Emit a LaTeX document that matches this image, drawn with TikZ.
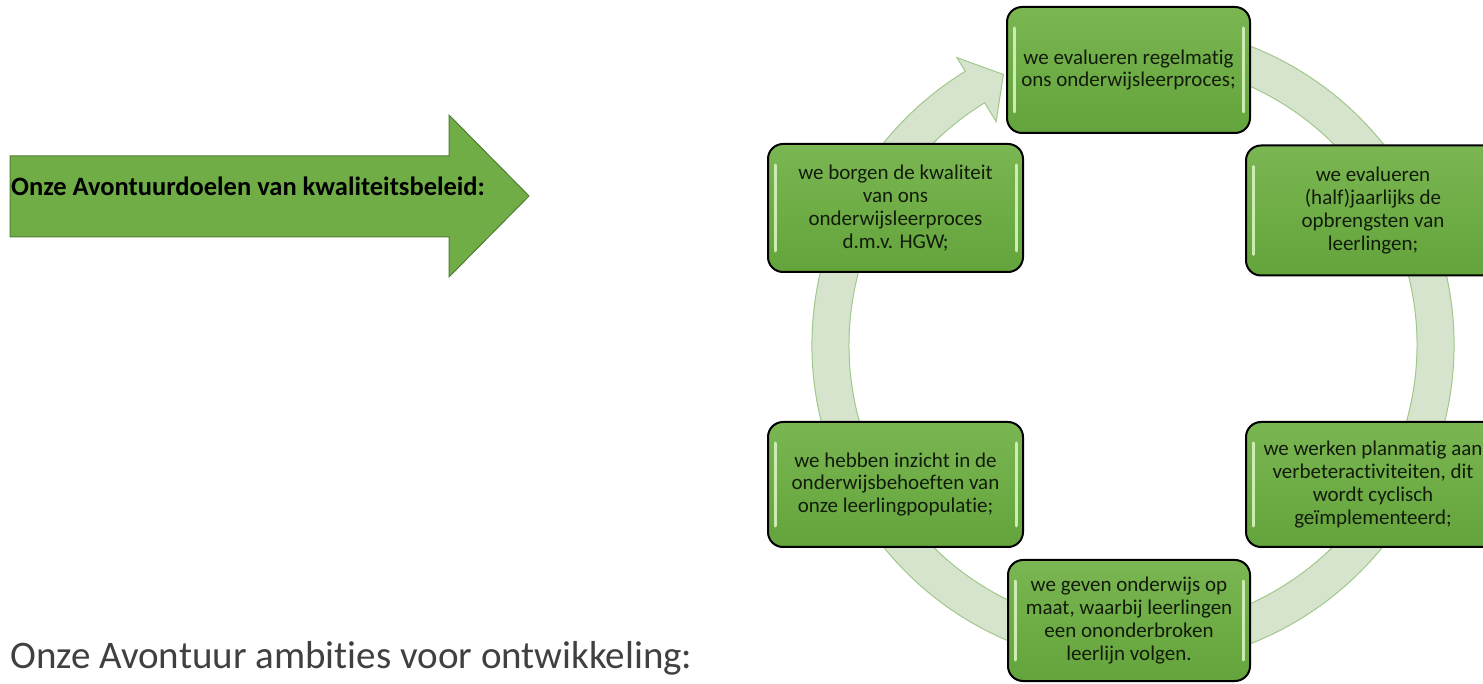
\documentclass[tikz,border=0pt]{standalone}
\usepackage{fontspec}
\setmainfont{Carlito}[Ligatures=NoCommon]
\definecolor{arrowfill}{RGB}{112,173,71}
\definecolor{arrowline}{RGB}{80,126,50}
\definecolor{boxtop}{RGB}{122,182,82}
\definecolor{boxbot}{RGB}{100,164,60}
\definecolor{boxtext}{RGB}{18,28,10}
\definecolor{hilite}{RGB}{205,236,180}
\definecolor{ringfill}{RGB}{214,228,206}
\definecolor{ringline}{RGB}{160,200,138}
\definecolor{graytext}{RGB}{64,64,64}
\tikzset{
  cyclebox/.style={rounded corners=15pt, draw=black, line width=2pt,
    top color=boxtop, bottom color=boxbot, text=boxtext, align=center,
    font=\fontsize{21}{22.8}\selectfont, inner sep=0pt},
  hl/.style={draw=hilite, line width=3pt, line cap=round},
  ring/.style={fill=ringfill, draw=ringline, line width=1pt},
  bigarrow/.style={fill=arrowfill, draw=arrowline, line width=1pt}
}
\begin{document}
\begin{tikzpicture}[x=1pt,y=1pt]
\useasboundingbox (0,0) rectangle (1483,683);
\clip (0,0) rectangle (1483,683);
% left arrow
\path[bigarrow] (10,527) -- (449,527) -- (449,568) -- (529,487) -- (449,406) -- (449,446) -- (10,446) -- cycle;
\node[anchor=west, font=\bfseries\fontsize{26.5}{30}\selectfont, inner sep=0pt] (goal) at (11,497) {Onze Avontuurdoelen van kwaliteitsbeleid:};
% bottom text
\node[anchor=base west, font=\fontsize{39}{44}\selectfont, text=graytext, inner sep=0pt] (amb) at (10,15) {Onze Avontuur ambities voor ontwikkeling:};
% ring arrow
\begin{scope}[shift={(1133,338)}]
\path[ring] (75:321) arc[start angle=75, end angle=-238.5, radius=321]
  -- (-238.5:337) -- (-244.4:300) -- (-238.5:262) -- (-238.5:284)
  arc[start angle=-238.5, end angle=75, radius=284] -- cycle;
\end{scope}
% boxes
\node[cyclebox, minimum width=243pt, minimum height=126pt] (b1) at (1128.5,613) {we evalueren regelmatig\\ons onderwijsleerproces;};
\node[cyclebox, minimum width=254pt, minimum height=130pt] (b2) at (1373,472.5) {we evalueren\\(half)jaarlijks de\\opbrengsten van\\leerlingen;};
\node[cyclebox, minimum width=254pt, minimum height=125pt] (b3) at (1373,198.5) {we werken planmatig aan\\verbeteractiviteiten, dit\\wordt cyclisch\\geïmplementeerd;};
\node[cyclebox, minimum width=242pt, minimum height=121pt] (b4) at (1129,62.5) {we geven onderwijs op\\maat, waarbij leerlingen\\een ononderbroken\\leerlijn volgen.};
\node[cyclebox, minimum width=255pt, minimum height=125pt] (b5) at (895.5,198.5) {we hebben inzicht in de\\onderwijsbehoeften van\\onze leerlingpopulatie;};
\node[cyclebox, minimum width=255pt, minimum height=128pt] (b6) at (895.5,475) {we borgen de kwaliteit\\van ons\\onderwijsleerproces\\d.m.v. HGW;};
% glossy highlights
\foreach \b in {b1,b2,b3,b4,b5,b6}{
  \draw[hl] ([xshift=8pt,yshift=-22pt]\b.north west) -- ([xshift=8pt,yshift=22pt]\b.south west);
  \draw[hl] ([xshift=-8pt,yshift=-22pt]\b.north east) -- ([xshift=-8pt,yshift=22pt]\b.south east);
}
\end{tikzpicture}
\end{document}
